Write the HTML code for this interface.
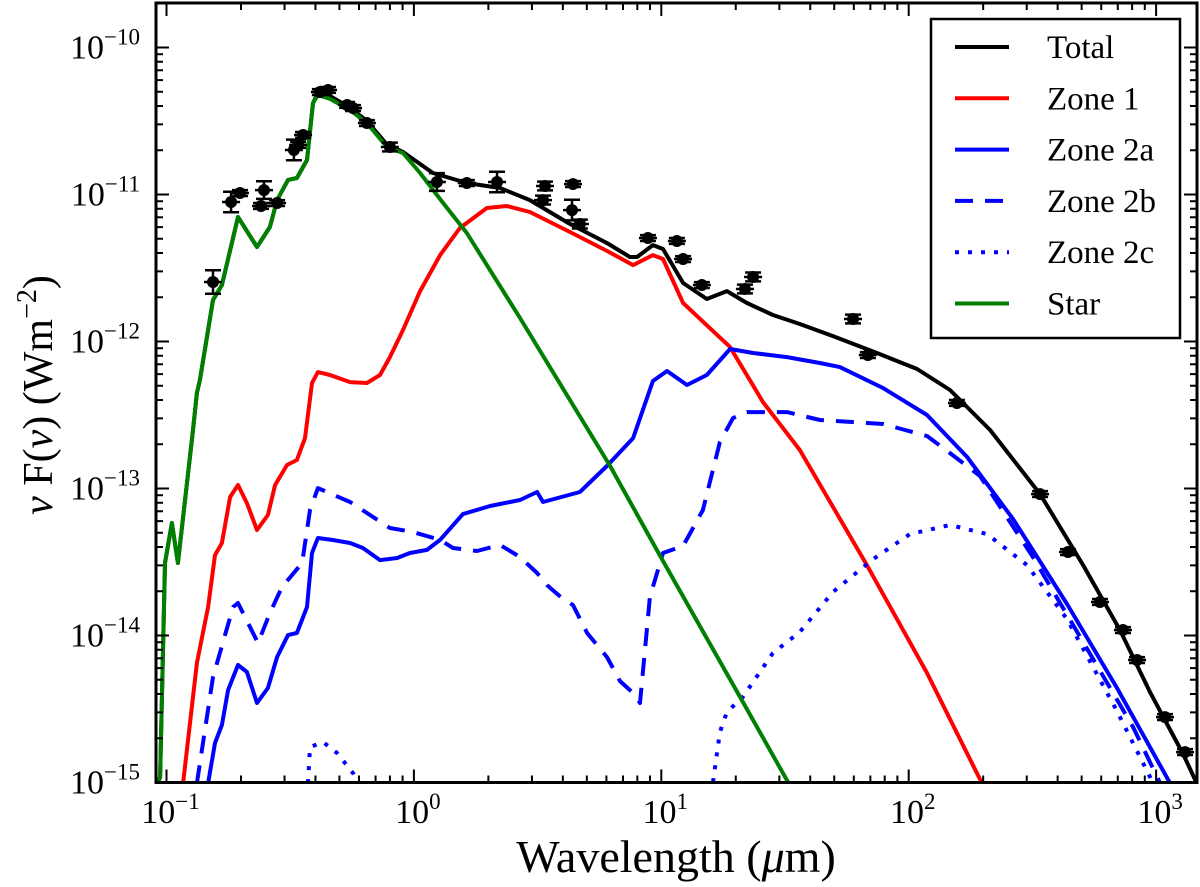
<!DOCTYPE html>
<html><head><meta charset="utf-8">
<style>
html,body{margin:0;padding:0;background:#fff;}
svg{display:block;font-family:"Liberation Serif","DejaVu Serif",serif;}
</style></head>
<body>
<svg id="chart" width="1200" height="887" viewBox="0 0 1200 887" xmlns="http://www.w3.org/2000/svg">
  <defs><clipPath id="plotclip"><rect x="156" y="3" width="1041" height="779"/></clipPath></defs>
  <rect x="0" y="0" width="1200" height="887" fill="#fff"/>
  <g id="curves" clip-path="url(#plotclip)"></g>
  <g id="points"></g>
  <g id="axes"></g>
  <g id="legend"></g>
  <text x="676" y="872" font-size="46" text-anchor="middle">Wavelength (<tspan font-style="italic">μ</tspan>m)</text>
  <text transform="translate(52,395) rotate(-90)" font-size="42" text-anchor="middle"><tspan font-style="italic">ν</tspan> F(<tspan font-style="italic">ν</tspan>) (Wm<tspan font-size="28" dy="-16">−2</tspan><tspan dy="16">)</tspan></text>
</svg>
<script>
// log10(wavelength / um) and log10(nuFnu / W m^-2)
const starLogWl = [-1.034,-1.026,-1.006,-0.978,-0.954,-0.893,-0.877,-0.865,-0.832,-0.812,-0.776,-0.711,-0.634,-0.582,-0.553,-0.509,-0.473,-0.432,-0.408,-0.388,-0.339,-0.258,-0.190,-0.109,-0.044,0.025,0.118,0.214,0.429,0.793,1.007,1.318,1.512];
const starLogF  = [-14.997,-14.963,-13.507,-13.235,-13.507,-12.602,-12.350,-12.262,-11.922,-11.718,-11.616,-11.153,-11.357,-11.221,-11.038,-10.901,-10.888,-10.765,-10.378,-10.323,-10.350,-10.425,-10.514,-10.677,-10.718,-10.854,-11.058,-11.262,-11.840,-12.847,-13.493,-14.418,-14.997];
const zone1LogWl = [-0.933,-0.877,-0.832,-0.804,-0.776,-0.743,-0.711,-0.675,-0.634,-0.590,-0.561,-0.513,-0.473,-0.440,-0.412,-0.388,-0.339,-0.258,-0.190,-0.137,-0.097,-0.044,0.025,0.106,0.186,0.295,0.376,0.469,0.631,0.780,0.886,0.966,1.007,1.088,1.209,1.278,1.411,1.560,1.831,2.074,2.296];
const zone1LogF  = [-15.004,-14.187,-13.806,-13.453,-13.371,-13.058,-12.976,-13.099,-13.282,-13.180,-12.976,-12.840,-12.806,-12.657,-12.282,-12.208,-12.228,-12.276,-12.282,-12.228,-12.106,-11.922,-11.657,-11.412,-11.228,-11.092,-11.078,-11.119,-11.255,-11.384,-11.480,-11.412,-11.439,-11.738,-11.929,-12.038,-12.412,-12.738,-13.521,-14.255,-15.004];
const totalLogWl = [-1.034,-1.026,-1.006,-0.978,-0.954,-0.893,-0.877,-0.865,-0.832,-0.812,-0.776,-0.711,-0.634,-0.582,-0.553,-0.509,-0.473,-0.432,-0.408,-0.388,-0.339,-0.258,-0.190,-0.109,-0.044,0.077,0.214,0.348,0.469,0.631,0.780,0.873,0.902,0.966,1.007,1.088,1.184,1.265,1.346,1.451,1.560,1.694,1.872,2.034,2.167,2.329,2.531,2.705,2.854,2.975,3.109,3.160];
const totalLogF  = [-14.997,-14.963,-13.507,-13.235,-13.507,-12.602,-12.350,-12.262,-11.922,-11.718,-11.616,-11.153,-11.357,-11.221,-11.038,-10.901,-10.888,-10.765,-10.378,-10.310,-10.330,-10.410,-10.500,-10.660,-10.711,-10.854,-10.922,-10.956,-11.038,-11.201,-11.330,-11.425,-11.425,-11.344,-11.371,-11.602,-11.711,-11.657,-11.738,-11.820,-11.881,-11.963,-12.078,-12.187,-12.330,-12.602,-13.038,-13.521,-13.963,-14.384,-14.806,-14.990];
const zone2aLogWl = [-0.832,-0.804,-0.776,-0.751,-0.711,-0.675,-0.634,-0.590,-0.553,-0.509,-0.473,-0.432,-0.412,-0.388,-0.331,-0.258,-0.206,-0.137,-0.068,-0.016,0.053,0.106,0.198,0.308,0.429,0.498,0.522,0.671,0.780,0.886,0.966,1.023,1.104,1.184,1.278,1.371,1.508,1.641,1.722,1.896,2.074,2.236,2.422,2.640,2.842,3.056];
const zone2aLogF  = [-15.004,-14.731,-14.609,-14.371,-14.201,-14.248,-14.459,-14.357,-14.146,-13.997,-13.983,-13.806,-13.439,-13.337,-13.350,-13.371,-13.405,-13.487,-13.473,-13.439,-13.418,-13.350,-13.174,-13.119,-13.078,-13.024,-13.092,-13.024,-12.847,-12.657,-12.269,-12.201,-12.296,-12.228,-12.051,-12.078,-12.106,-12.146,-12.174,-12.316,-12.500,-12.786,-13.208,-13.786,-14.357,-15.004];
const zone2bLogWl = [-0.877,-0.812,-0.731,-0.711,-0.630,-0.582,-0.533,-0.452,-0.420,-0.388,-0.258,-0.097,-0.004,0.106,0.158,0.255,0.348,0.429,0.498,0.538,0.603,0.643,0.700,0.780,0.833,0.886,0.914,0.954,1.007,1.088,1.168,1.237,1.290,1.346,1.508,1.641,1.896,2.074,2.167,2.288,2.502,2.705,2.907,3.016];
const zone2bLogF  = [-15.004,-14.282,-13.806,-13.779,-14.051,-13.847,-13.670,-13.507,-13.146,-12.997,-13.092,-13.269,-13.296,-13.350,-13.405,-13.425,-13.384,-13.466,-13.575,-13.657,-13.752,-13.793,-13.983,-14.146,-14.310,-14.391,-14.459,-13.738,-13.439,-13.391,-13.146,-12.684,-12.521,-12.480,-12.480,-12.534,-12.561,-12.643,-12.759,-12.915,-13.466,-14.044,-14.623,-15.004];
const zone2cHotLogWl = [-0.428,-0.420,-0.367,-0.311,-0.246,-0.226];
const zone2cHotLogF  = [-15.004,-14.759,-14.725,-14.799,-14.936,-15.004];
const zone2cColdLogWl = [1.209,1.237,1.265,1.330,1.451,1.560,1.694,1.856,2.005,2.167,2.317,2.478,2.640,2.842,2.988];
const zone2cColdLogF  = [-14.997,-14.657,-14.521,-14.418,-14.119,-13.976,-13.704,-13.480,-13.310,-13.248,-13.310,-13.521,-13.888,-14.514,-15.004];
const obsLogWl = [-0.812,-0.739,-0.703,-0.618,-0.606,-0.553,-0.485,-0.468,-0.448,-0.380,-0.347,-0.270,-0.246,-0.190,-0.097,0.093,0.214,0.336,0.530,0.522,0.643,0.639,0.671,0.946,1.063,1.088,1.164,1.338,1.371,1.775,1.835,2.195,2.531,2.644,2.773,2.866,2.923,3.036,3.117];
const obsLogF  = [-11.595,-11.051,-10.990,-11.078,-10.970,-11.058,-10.697,-10.663,-10.595,-10.303,-10.289,-10.391,-10.412,-10.514,-10.677,-10.915,-10.922,-10.915,-10.942,-11.038,-10.929,-11.106,-11.201,-11.296,-11.316,-11.439,-11.616,-11.643,-11.561,-11.847,-12.092,-12.418,-13.038,-13.432,-13.772,-13.963,-14.167,-14.555,-14.793];
const obsErr   = [0.08,0.07,0.02,0.02,0.06,0.02,0.07,0.02,0.02,0.02,0.02,0.02,0.02,0.02,0.03,0.06,0.02,0.07,0.03,0.03,0.02,0.07,0.03,0.02,0.02,0.02,0.02,0.03,0.03,0.03,0.02,0.02,0.02,0.02,0.02,0.02,0.02,0.02,0.02];
const xTickExps = [-1,0,1,2,3];
const yTickExps = [-15,-14,-13,-12,-11,-10];
const legendLabels = ["Total","Zone 1","Zone 2a","Zone 2b","Zone 2c","Star"];

const NS = "http://www.w3.org/2000/svg";
const PL = 156, PR = 1197, PT = 3, PB = 782.5;
const X0 = 166.5, XD = 247.4, Y0 = 782.5, YD = 147;
function sx(l){ return X0 + (l + 1) * XD; }
function sy(l){ return Y0 - (l + 15) * YD; }
function mk(tag, attrs, parent){
  const e = document.createElementNS(NS, tag);
  for (const k in attrs) e.setAttribute(k, attrs[k]);
  parent.appendChild(e);
  return e;
}
function pathOf(xs, ys){
  return xs.map((v,i)=>(i?'L':'M')+sx(v).toFixed(1)+','+sy(ys[i]).toFixed(1)).join(' ');
}
const curves = document.getElementById('curves');
const styles = {
  total:{c:'#000',d:''}, zone1:{c:'#ff0000',d:''}, z2a:{c:'#0000ff',d:''},
  z2b:{c:'#0000ff',d:'18,12'}, z2c:{c:'#0000ff',d:'4,9'}, star:{c:'#007f00',d:''}
};
function drawCurve(xs, ys, st, name){
  const p = mk('path', {d:pathOf(xs,ys), fill:'none', stroke:st.c, 'stroke-width':4, 'stroke-linejoin':'round'}, curves);
  if (st.d) p.setAttribute('stroke-dasharray', st.d);
  
  
}
drawCurve(totalLogWl, totalLogF, styles.total, 'total-curve');
drawCurve(zone1LogWl, zone1LogF, styles.zone1, 'zone1-curve');
drawCurve(zone2aLogWl, zone2aLogF, styles.z2a, 'zone2a-curve');
drawCurve(zone2bLogWl, zone2bLogF, styles.z2b, 'zone2b-curve');
drawCurve(zone2cHotLogWl, zone2cHotLogF, styles.z2c, 'zone2c-curve-hot');
drawCurve(zone2cColdLogWl, zone2cColdLogF, styles.z2c, 'zone2c-curve-cold');
drawCurve(starLogWl, starLogF, styles.star, 'star-curve');

const pts = document.getElementById('points');
obsLogWl.forEach((lw,i)=>{
  const g = mk('g', {}, pts);
  
  
  const x = sx(lw), y = sy(obsLogF[i]);
  const y1 = sy(obsLogF[i]+obsErr[i]), y2 = sy(obsLogF[i]-obsErr[i]);
  mk('line', {x1:x,x2:x,y1:y1,y2:y2,stroke:'#000','stroke-width':2.5}, g);
  mk('line', {x1:x-8,x2:x+8,y1:y1,y2:y1,stroke:'#000','stroke-width':2.5}, g);
  mk('line', {x1:x-8,x2:x+8,y1:y2,y2:y2,stroke:'#000','stroke-width':2.5}, g);
  mk('line', {x1:x-9,x2:x+9,y1:y,y2:y,stroke:'#000','stroke-width':2.5}, g);
  mk('circle', {cx:x, cy:y, r:6, fill:'#000'}, g);
});

const ax = document.getElementById('axes');
const frame = mk('rect', {x:PL,y:PT,width:PR-PL,height:PB-PT,fill:'none',stroke:'#000','stroke-width':3}, ax);


function tick(x1,y1,x2,y2){ mk('line',{x1:x1,y1:y1,x2:x2,y2:y2,stroke:'#000','stroke-width':2},ax); }
for (let e=-2; e<=3; e++){
  for (let m=1; m<10; m++){
    const l = e + Math.log10(m), x = sx(l);
    if (x < PL+1 || x > PR-1) continue;
    const len = m===1 ? 13 : 7;
    tick(x,PB,x,PB-len); tick(x,PT,x,PT+len);
  }
}
for (let e=-16; e<=-9; e++){
  for (let m=1; m<10; m++){
    const l = e + Math.log10(m), y = sy(l);
    if (y < PT+1 || y > PB+0.5) continue;
    const len = m===1 ? 13 : 7;
    tick(PL,y,PL+len,y); tick(PR,y,PR-len,y);
  }
}
xTickExps.forEach(e=>{
  const t = mk('text', {x:sx(e)+4, y:823, 'font-size':34, 'text-anchor':'middle'}, ax);
  
  
  t.innerHTML = '10<tspan font-size="23" dy="-14">'+(e<0?'−'+(-e):e)+'</tspan>';
});
yTickExps.forEach(e=>{
  const t = mk('text', {x:140, y:sy(e)+11, 'font-size':34, 'text-anchor':'end'}, ax);
  
  
  t.innerHTML = '10<tspan font-size="23" dy="-14">−'+(-e)+'</tspan>';
});

const lg = document.getElementById('legend');
const box = mk('rect', {x:931,y:19,width:249,height:319,fill:'#fff',stroke:'#000','stroke-width':2.5}, lg);


const legStyles = [styles.total, styles.zone1, styles.z2a, styles.z2b, styles.z2c, styles.star];
legendLabels.forEach((lab,i)=>{
  const y = 47 + i*51.3;
  const g = mk('g', {}, lg);
  
  
  const st = legStyles[i];
  const ln = mk('line', {x1:955,x2:1009,y1:y,y2:y,stroke:st.c,'stroke-width':4}, g);
  if (st.d) ln.setAttribute('stroke-dasharray', st.d);
  const t = mk('text', {x:1047, y:y+11, 'font-size':33}, g);
  t.textContent = lab;
});
</script>
</body></html>
